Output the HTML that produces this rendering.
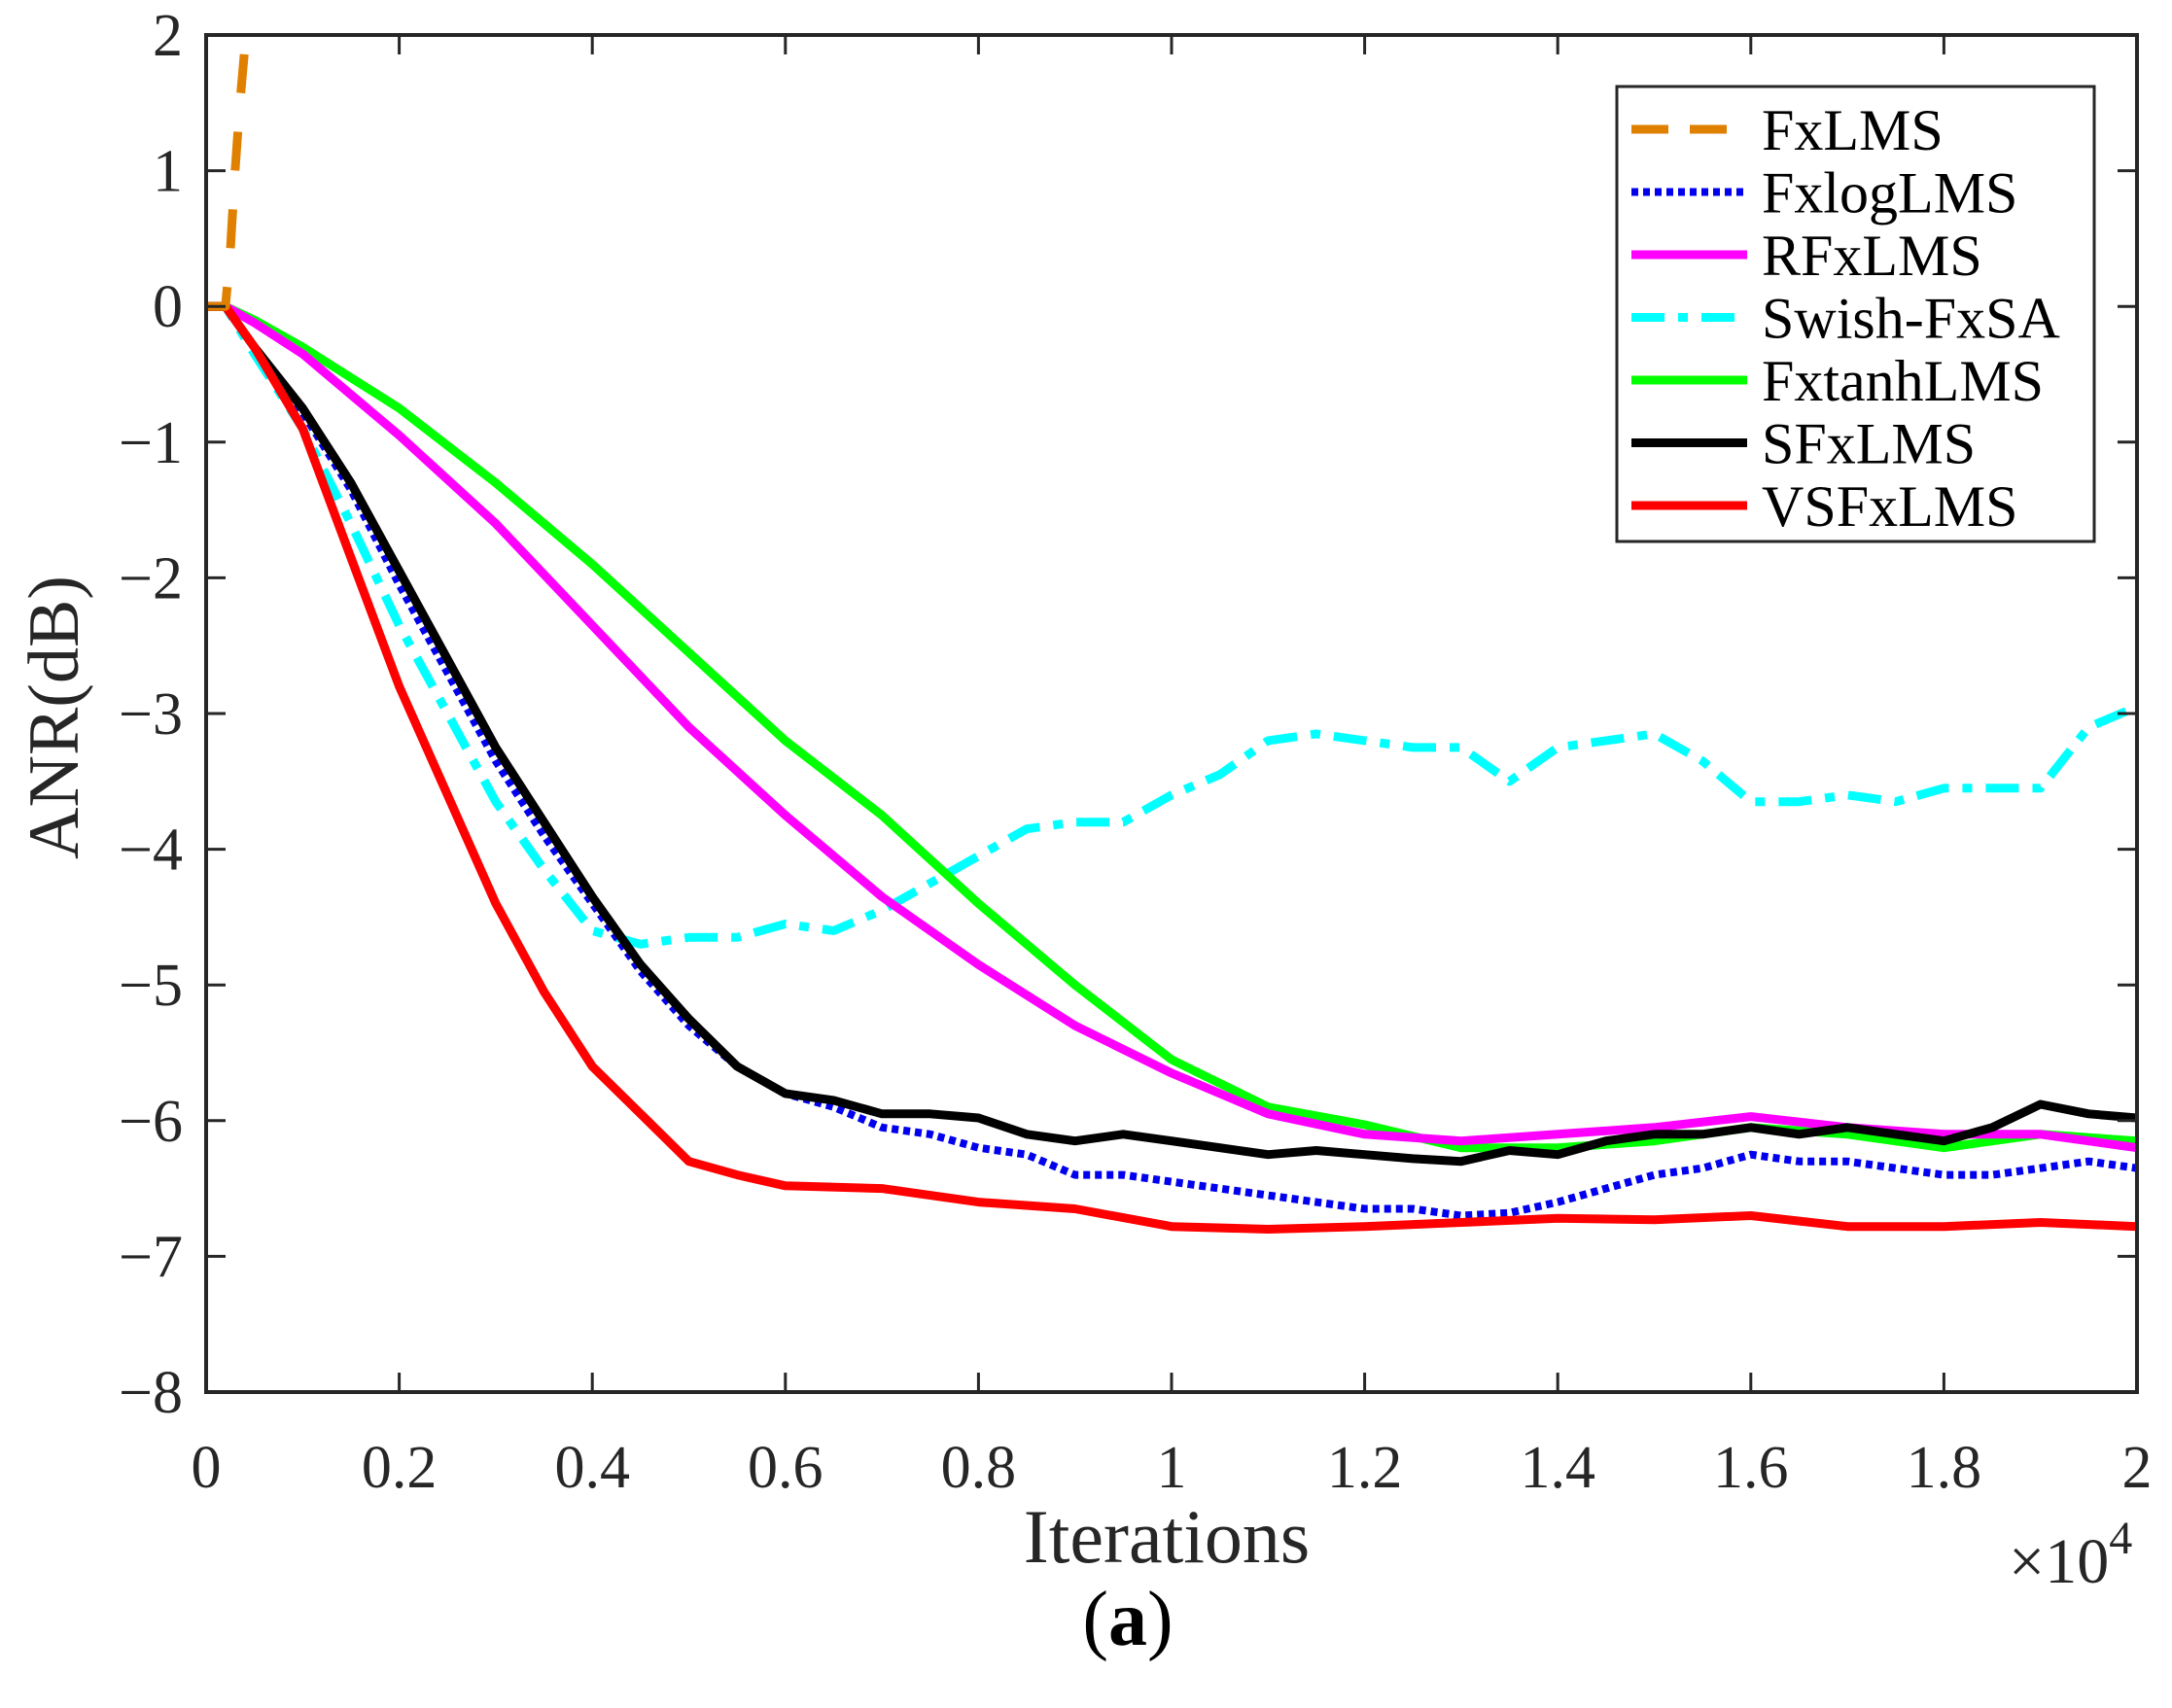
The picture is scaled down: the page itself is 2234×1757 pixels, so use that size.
<!DOCTYPE html>
<html><head><meta charset="utf-8"><style>
html,body{margin:0;padding:0;background:#fff;}
svg{display:block;font-family:"Liberation Serif",serif;}
</style></head><body>
<svg id="chart" width="2234" height="1757" viewBox="0 0 2234 1757" xmlns="http://www.w3.org/2000/svg">
<defs><clipPath id="plotclip"><rect x="212" y="36" width="1986" height="1396"/></clipPath></defs>
<rect x="0" y="0" width="2234" height="1757" fill="#fff"/>
<g id="marks" clip-path="url(#plotclip)"></g>
<g id="axes"></g>
<g id="legend"></g>
<text x="1200" y="1607" text-anchor="middle" font-size="78" fill="#262626">Iterations</text>
<text x="2066" y="1628" font-size="66" fill="#262626">×10<tspan dy="-30" font-size="48">4</tspan></text>
<text transform="translate(80,738) rotate(-90)" text-anchor="middle" font-size="74" fill="#262626">ANR(dB)</text>
<text x="1160" y="1692" text-anchor="middle" font-size="80" fill="#000">(<tspan font-weight="bold">a</tspan>)</text>
</svg>
<script>
const xTicks=[0,0.2,0.4,0.6,0.8,1,1.2,1.4,1.6,1.8,2];
const xTickLabels=["0","0.2","0.4","0.6","0.8","1","1.2","1.4","1.6","1.8","2"];
const yTicks=[2,1,0,-1,-2,-3,-4,-5,-6,-7,-8];
const yTickLabels=["2","1","0","\u22121","\u22122","\u22123","\u22124","\u22125","\u22126","\u22127","\u22128"];
const seriesNames=["FxLMS","FxlogLMS","RFxLMS","Swish-FxSA","FxtanhLMS","SFxLMS","VSFxLMS"];
const fxlmsX=[0,0.02,0.025,0.03,0.035,0.04,0.045,0.05];
const fxlmsY=[0,0,0.4,1.0,1.5,1.9,2.2,2.6];
const logX=[0,0.02,0.05,0.1,0.15,0.2,0.25,0.3,0.35,0.4,0.45,0.5,0.55,0.6,0.65,0.7,0.75,0.8,0.85,0.9,0.95,1.0,1.05,1.1,1.15,1.2,1.25,1.3,1.35,1.4,1.45,1.5,1.55,1.6,1.65,1.7,1.75,1.8,1.85,1.9,1.95,2.0];
const logY=[0,0,-0.3,-0.78,-1.35,-2.05,-2.7,-3.35,-3.9,-4.4,-4.9,-5.3,-5.6,-5.8,-5.9,-6.05,-6.1,-6.2,-6.25,-6.4,-6.4,-6.45,-6.5,-6.55,-6.6,-6.65,-6.65,-6.7,-6.68,-6.6,-6.5,-6.4,-6.35,-6.25,-6.3,-6.3,-6.35,-6.4,-6.4,-6.35,-6.3,-6.35];
const rfxX=[0,0.02,0.05,0.1,0.2,0.3,0.4,0.5,0.6,0.7,0.8,0.9,1.0,1.1,1.2,1.3,1.4,1.5,1.6,1.7,1.8,1.9,2.0];
const rfxY=[0,0,-0.12,-0.35,-0.95,-1.6,-2.35,-3.1,-3.75,-4.35,-4.85,-5.3,-5.65,-5.95,-6.1,-6.15,-6.1,-6.05,-5.97,-6.05,-6.1,-6.1,-6.2];
const swishX=[0,0.02,0.05,0.1,0.15,0.2,0.25,0.3,0.35,0.4,0.45,0.5,0.55,0.6,0.65,0.7,0.75,0.8,0.85,0.9,0.95,1.0,1.05,1.1,1.15,1.2,1.25,1.3,1.35,1.4,1.45,1.5,1.55,1.6,1.65,1.7,1.75,1.8,1.85,1.9,1.95,2.0];
const swishY=[0,0,-0.35,-0.9,-1.6,-2.35,-3.0,-3.65,-4.15,-4.6,-4.7,-4.65,-4.65,-4.55,-4.6,-4.45,-4.25,-4.05,-3.85,-3.8,-3.8,-3.6,-3.45,-3.2,-3.15,-3.2,-3.25,-3.25,-3.5,-3.25,-3.2,-3.15,-3.35,-3.65,-3.65,-3.6,-3.65,-3.55,-3.55,-3.55,-3.1,-2.95];
const tanhX=[0,0.02,0.05,0.1,0.2,0.3,0.4,0.5,0.6,0.7,0.8,0.9,1.0,1.1,1.2,1.3,1.4,1.5,1.6,1.7,1.8,1.9,2.0];
const tanhY=[0,0,-0.1,-0.3,-0.75,-1.3,-1.9,-2.55,-3.2,-3.75,-4.4,-5.0,-5.55,-5.9,-6.03,-6.2,-6.2,-6.15,-6.05,-6.1,-6.2,-6.1,-6.15];
const sfxX=[0,0.02,0.05,0.1,0.15,0.2,0.25,0.3,0.35,0.4,0.45,0.5,0.55,0.6,0.65,0.7,0.75,0.8,0.85,0.9,0.95,1.0,1.05,1.1,1.15,1.2,1.25,1.3,1.35,1.4,1.45,1.5,1.55,1.6,1.65,1.7,1.75,1.8,1.85,1.9,1.95,2.0];
const sfxY=[0,0,-0.3,-0.75,-1.3,-1.95,-2.6,-3.25,-3.8,-4.35,-4.85,-5.25,-5.6,-5.8,-5.85,-5.95,-5.95,-5.98,-6.1,-6.15,-6.1,-6.15,-6.2,-6.25,-6.22,-6.25,-6.28,-6.3,-6.22,-6.25,-6.15,-6.1,-6.1,-6.05,-6.1,-6.05,-6.1,-6.15,-6.05,-5.88,-5.95,-5.98];
const vsfX=[0,0.02,0.05,0.1,0.15,0.2,0.25,0.3,0.35,0.4,0.45,0.5,0.55,0.6,0.7,0.8,0.9,1.0,1.1,1.2,1.3,1.4,1.5,1.6,1.7,1.8,1.9,2.0];
const vsfY=[0,0,-0.3,-0.9,-1.85,-2.8,-3.6,-4.4,-5.05,-5.6,-5.95,-6.3,-6.4,-6.48,-6.5,-6.6,-6.65,-6.78,-6.8,-6.78,-6.75,-6.72,-6.73,-6.7,-6.78,-6.78,-6.75,-6.78];

const L=212,R=2198,T=36,B=1432,YMAX=2,YMIN=-8,XMAX=2;
const sx=v=>L+(v/XMAX)*(R-L);
const sy=v=>T+(YMAX-v)/(YMAX-YMIN)*(B-T);
const NS="http://www.w3.org/2000/svg";
function mk(tag,attrs,parent){const e=document.createElementNS(NS,tag);for(const k in attrs)e.setAttribute(k,attrs[k]);parent.appendChild(e);return e;}
const marks=document.getElementById('marks'),axes=document.getElementById('axes'),legend=document.getElementById('legend');
const styles=[
 {c:"#e08000",d:"40 40",w:9},
 {c:"#0000ee",d:"7 5",w:8},
 {c:"#ff00ff",d:"",w:9},
 {c:"#00ffff",d:"34 14 10 14",w:9},
 {c:"#00ff00",d:"",w:9},
 {c:"#000000",d:"",w:9},
 {c:"#ff0000",d:"",w:9}];
const data=[[fxlmsX,fxlmsY],[logX,logY],[rfxX,rfxY],[swishX,swishY],[tanhX,tanhY],[sfxX,sfxY],[vsfX,vsfY]];
const order=[3,4,2,1,5,6,0];
order.forEach(i=>{
 const [xs,ys]=data[i];
 const pts=xs.map((x,j)=>sx(x).toFixed(1)+","+sy(ys[j]).toFixed(1)).join(" ");
 const p=mk('polyline',{points:pts,fill:"none",stroke:styles[i].c,"stroke-width":styles[i].w,"stroke-linejoin":"round"},marks);
 if(styles[i].d)p.setAttribute('stroke-dasharray',styles[i].d);
 
 
});
const box=mk('rect',{x:L,y:T,width:R-L,height:B-T,fill:"none",stroke:"#262626","stroke-width":4},axes);


xTicks.forEach((v,i)=>{
 const x=sx(v);
 mk('line',{x1:x,y1:B,x2:x,y2:B-20,stroke:"#262626","stroke-width":3},axes);
 mk('line',{x1:x,y1:T,x2:x,y2:T+20,stroke:"#262626","stroke-width":3},axes);
 const t=mk('text',{x:x,y:1530,"text-anchor":"middle","font-size":62,fill:"#262626"},axes);
 t.textContent=xTickLabels[i];
 
 
});
yTicks.forEach((v,i)=>{
 const y=sy(v);
 mk('line',{x1:L,y1:y,x2:L+20,y2:y,stroke:"#262626","stroke-width":3},axes);
 mk('line',{x1:R,y1:y,x2:R-20,y2:y,stroke:"#262626","stroke-width":3},axes);
 const t=mk('text',{x:188,y:y+21,"text-anchor":"end","font-size":62,fill:"#262626"},axes);
 t.textContent=yTickLabels[i];
 
 
});
const lg=mk('rect',{x:1663,y:89,width:491,height:468,fill:"#fff",stroke:"#262626","stroke-width":3},legend);


seriesNames.forEach((n,i)=>{
 const y=133+i*64.5;
 const ln=mk('line',{x1:1678,y1:y,x2:1797,y2:y,stroke:styles[i].c,"stroke-width":styles[i].w},legend);
 if(styles[i].d)ln.setAttribute('stroke-dasharray',i==0?"38 22":styles[i].d);
 
 
 const t=mk('text',{x:1812,y:y+21,"font-size":60,fill:"#000"},legend);
 t.textContent=n;
 
 
});
</script>
</body></html>
